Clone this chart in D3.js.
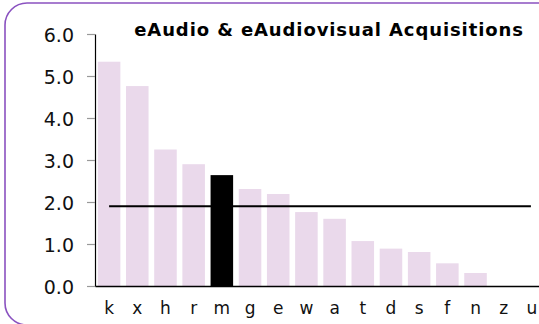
<!DOCTYPE html>
<html>
<head>
<meta charset="utf-8">
<script src="https://cdn.jsdelivr.net/npm/d3@7"></script>
<style>
  html, body { margin: 0; padding: 0; background: #fff; overflow: hidden; }
  svg { display: block; }
</style>
</head>
<body>
<svg id="chart" width="539" height="324"></svg>
<script>
const categories = ["k","x","h","r","m","g","e","w","a","t","d","s","f","n","z","u"];
const values = [5.34, 4.76, 3.25, 2.90, 2.64, 2.31, 2.19, 1.76, 1.60, 1.07, 0.89, 0.81, 0.54, 0.31, 0, 0];
const highlight = "m";
const averageValue = 1.90;
const yTicks = [0, 1, 2, 3, 4, 5, 6];
const title = "eAudio & eAudiovisual Acquisitions";

const svg = d3.select("#chart");

// frame
svg.append("rect")
  .attr("x", 5).attr("y", 3)
  .attr("width", 560).attr("height", 322)
  .attr("rx", 22).attr("ry", 22)
  .attr("fill", "none")
  .attr("stroke", "#8a52c0")
  .attr("stroke-width", 1.6);

const x = d3.scaleBand().domain(categories).range([95, 546]).paddingInner(0.2).paddingOuter(0.1);
const y = d3.scaleLinear().domain([0, 6]).range([286, 34]);

// bars
svg.append("g").selectAll("rect").data(categories).join("rect")
  .attr("x", d => x(d))
  .attr("width", x.bandwidth())
  .attr("y", (d, i) => y(values[i]))
  .attr("height", (d, i) => y(0) - y(values[i]))
  .attr("fill", d => d === highlight ? "#000000" : "#ead9eb");

// y axis
const yAxis = svg.append("g").attr("transform", "translate(95,0)")
  .call(d3.axisLeft(y).tickValues(yTicks).tickFormat(d3.format(".1f")).tickSize(8).tickSizeOuter(0).tickPadding(13));
yAxis.select(".domain").attr("stroke", "#000").attr("stroke-width", 1.2);
yAxis.selectAll(".tick line").attr("stroke", "#999").attr("stroke-width", 1.2);
yAxis.selectAll(".tick text").attr("font-family", "DejaVu Sans").attr("font-size", 19).attr("fill", "#111").attr("dy", "0.42em");

// x axis
const xAxis = svg.append("g").attr("transform", "translate(0,286)")
  .call(d3.axisBottom(x).tickSize(0).tickSizeOuter(0).tickPadding(16));
xAxis.select(".domain").attr("stroke", "#000").attr("stroke-width", 1.5);
xAxis.selectAll(".tick text").attr("font-family", "DejaVu Sans").attr("font-size", 17).attr("fill", "#111");

// average line
svg.append("line")
  .attr("x1", x(categories[0]) + x.bandwidth() / 2)
  .attr("x2", x(categories[categories.length - 1]) + x.bandwidth() / 2 - 1)
  .attr("y1", y(averageValue)).attr("y2", y(averageValue))
  .attr("stroke", "#000").attr("stroke-width", 2);

// title
svg.append("text")
  .attr("x", 329).attr("y", 36)
  .attr("text-anchor", "middle")
  .attr("font-family", "DejaVu Sans")
  .attr("font-weight", "bold")
  .attr("font-size", 18)
  .attr("letter-spacing", 0.9)
  .attr("fill", "#000")
  .text(title);
</script>
</body>
</html>
